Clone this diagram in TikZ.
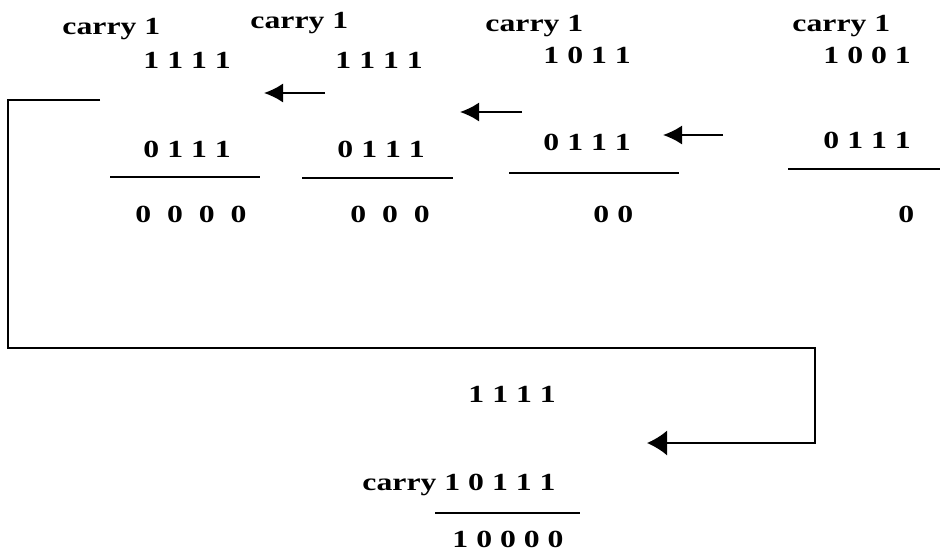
\documentclass[tikz,border=0pt]{standalone}
\usepackage{fontspec}
\setmainfont{Liberation Serif}
\usetikzlibrary{arrows.meta}

\tikzset{
  cifre/.style={font=\bfseries\fontsize{14}{16}\selectfont, xscale=1.29, inner sep=0pt, anchor=base west},
  riga/.style={line width=1pt},
  freccia/.style={line width=1pt, -{Latex[length=3.8mm,width=3.8mm]}}
}

\begin{document}
\begin{tikzpicture}[x=0.2mm, y=-0.2mm]
    \useasboundingbox (0,0) rectangle (940,552);

    % Colonna 1
    \node[cifre] (c1) at (62,35) {carry 1};
    \node[cifre] (a1) at (143,68) {1 1 1 1};
    \node[cifre] (b1) at (143,157) {0 1 1 1};
    \node[cifre] (r1) at (135,222) {0\enspace 0\enspace 0\enspace 0};

    % Colonna 2
    \node[cifre] (c2) at (250,28) {carry 1};
    \node[cifre] (a2) at (335,68) {1 1 1 1};
    \node[cifre] (b2) at (337,157) {0 1 1 1};
    \node[cifre] (r2) at (350,222) {0\enspace 0\enspace 0};

    % Colonna 3
    \node[cifre] (c3) at (485,31) {carry 1};
    \node[cifre] (a3) at (543,63) {1 0 1 1};
    \node[cifre] (b3) at (543,150) {0 1 1 1};
    \node[cifre] (r3) at (593,222) {0 0};

    % Colonna 4
    \node[cifre] (c4) at (792,31) {carry 1};
    \node[cifre] (a4) at (823,63) {1 0 0 1};
    \node[cifre] (b4) at (823,148) {0 1 1 1};
    \node[cifre] (r4) at (898,222) {0};

    % Linee di somma
    \coordinate (L1) at (110,177); \coordinate (R1) at (260,177);
    \coordinate (L2) at (302,178); \coordinate (R2) at (453,178);
    \coordinate (L3) at (509,173); \coordinate (R3) at (679,173);
    \coordinate (L4) at (788,169); \coordinate (R4) at (940,169);
    \draw[riga] (L1) -- (R1);
    \draw[riga] (L2) -- (R2);
    \draw[riga] (L3) -- (R3);
    \draw[riga] (L4) -- (R4);

    % Frecce dei riporti
    \coordinate (P1) at (325,93);  \coordinate (Q1) at (264,93);
    \coordinate (P2) at (522,112); \coordinate (Q2) at (460,112);
    \coordinate (P3) at (723,135); \coordinate (Q3) at (663,135);
    \draw[freccia] (P1) -- (Q1);
    \draw[freccia] (P2) -- (Q2);
    \draw[freccia] (P3) -- (Q3);

    % Riporto finale
    \coordinate (S) at (100,100);
    \coordinate (T) at (647,443);
    \draw[riga, -{Latex[length=4mm,width=5mm]}]
        (S) -| (8,348) -| (815,443) -- (T);

    % Somma finale
    \node[cifre] (f1) at (468,402) {1 1 1 1};
    \node[cifre] (f2) at (362,490) {carry 1 0 1 1 1};
    \coordinate (L5) at (435,513);
    \coordinate (R5) at (580,513);
    \draw[riga] (L5) -- (R5);
    \node[cifre] (f3) at (452,547) {1 0 0 0 0};
\end{tikzpicture}
\end{document}
